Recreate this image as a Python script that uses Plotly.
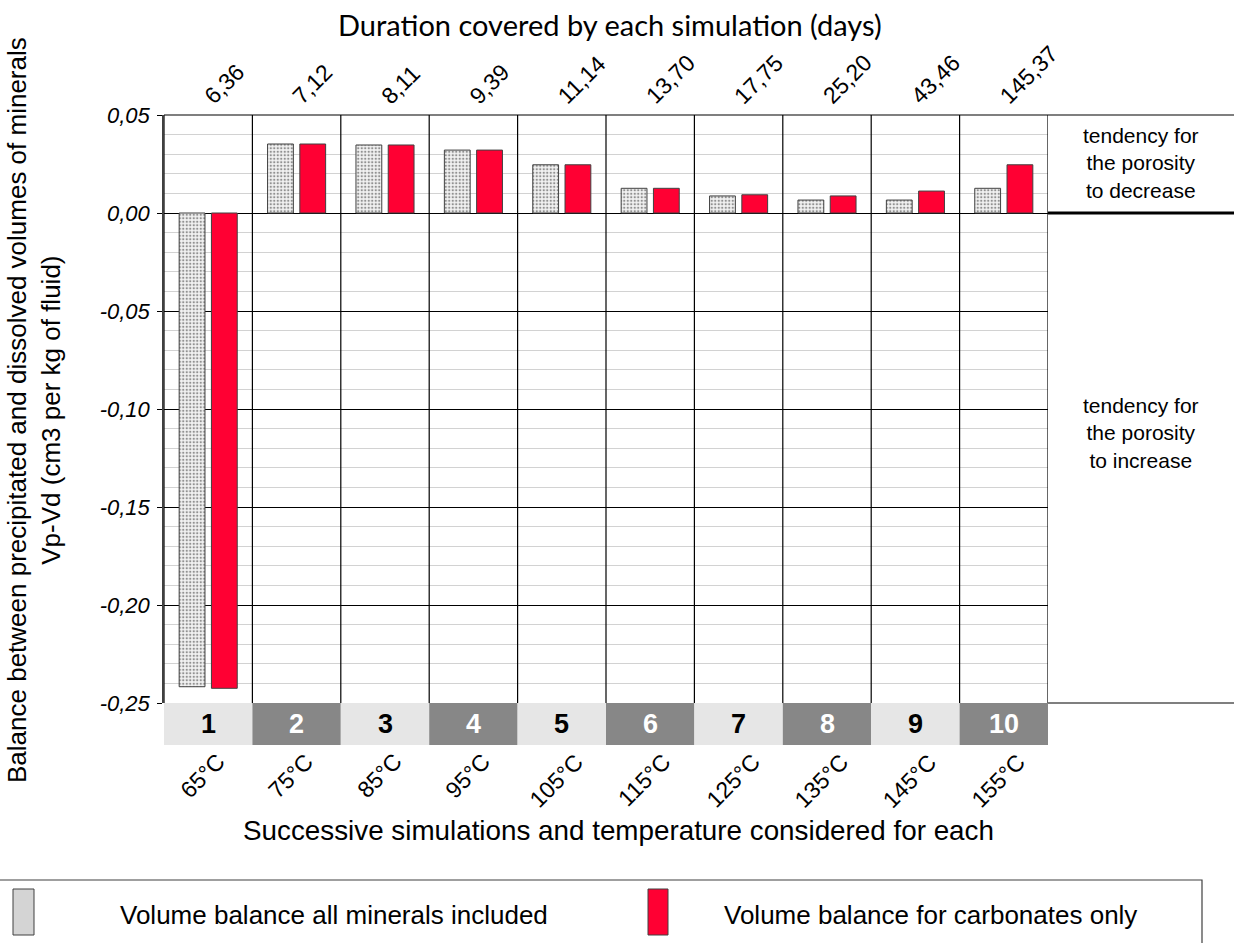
import plotly.graph_objects as go

# ---------------- data ----------------
simulations = ["1", "2", "3", "4", "5", "6", "7", "8", "9", "10"]
temperatures = ["65°C", "75°C", "85°C", "95°C", "105°C", "115°C", "125°C", "135°C", "145°C", "155°C"]
durations = ["6,36", "7,12", "8,11", "9,39", "11,14", "13,70", "17,75", "25,20", "43,46", "145,37"]
all_minerals = [-0.2417, 0.0352, 0.0347, 0.0321, 0.0246, 0.0126, 0.0087, 0.0066, 0.0066, 0.0126]
carbonates_only = [-0.2425, 0.0352, 0.0347, 0.0321, 0.0246, 0.0126, 0.0093, 0.0087, 0.0112, 0.0246]
y_tick_vals = [0.05, 0.0, -0.05, -0.10, -0.15, -0.20, -0.25]
y_tick_text = ["0,05", "0,00", "-0,05", "-0,10", "-0,15", "-0,20", "-0,25"]

FONT = "Liberation Sans, Arial, sans-serif"
TITLE_FONT = "Lato, Open Sans, sans-serif"
RED = "#ff0033"

# plot-area pixel geometry (for placing outside texts)
FW, FH = 1234, 943
L, R, T, B = 164, 1048, 115, 703
PW, PH = R - L, B - T


def px(x):
    return (x - L) / PW


def py(y):
    return (B - y) / PH


fig = go.Figure()
fig.add_trace(go.Bar(
    x=simulations, y=all_minerals, name="Volume balance all minerals included",
    marker=dict(color="#ffffff", line=dict(color="#404040", width=1),
                pattern=dict(shape=".", fgcolor="#303030", bgcolor="#f2f2f2", size=3.5, solidity=0.35)),
))
fig.add_trace(go.Bar(
    x=simulations, y=carbonates_only, name="Volume balance for carbonates only",
    marker=dict(color=RED, line=dict(color="#404040", width=1)),
))

shapes = []
n = len(simulations)
# vertical category separators
for k in range(n + 1):
    shapes.append(dict(type="line", xref="x", yref="paper", x0=k - 0.5, x1=k - 0.5, y0=0, y1=1,
                       line=dict(color="#000000", width=1.2)))
# category number boxes below the plot
for k in range(n):
    dark = (k % 2 == 1)
    shapes.append(dict(type="rect", xref="x", yref="paper", x0=k - 0.5, x1=k + 0.5,
                       y0=py(745), y1=py(703), line=dict(width=0),
                       fillcolor="#878787" if dark else "#e6e6e6", layer="below"))
# right side panel lines
shapes.append(dict(type="line", xref="paper", yref="paper", x0=px(L), x1=px(FW + 5), y0=py(T), y1=py(T),
                   line=dict(color="#000000", width=1.2)))
shapes.append(dict(type="line", xref="paper", yref="paper", x0=px(R), x1=px(FW + 5), y0=py(B), y1=py(B),
                   line=dict(color="#000000", width=1.2)))
shapes.append(dict(type="line", xref="paper", yref="y", x0=1, x1=px(FW + 5), y0=0, y1=0,
                   line=dict(color="#000000", width=3)))
# legend box
shapes.append(dict(type="rect", xref="paper", yref="paper", x0=px(-5), x1=px(1202), y0=py(960), y1=py(880),
                   line=dict(color="#404040", width=1.2), fillcolor="rgba(0,0,0,0)"))
shapes.append(dict(type="rect", xref="paper", yref="paper", x0=px(13), x1=px(34), y0=py(935), y1=py(889),
                   line=dict(color="#404040", width=1), fillcolor="#d4d4d4"))
shapes.append(dict(type="rect", xref="paper", yref="paper", x0=px(648), x1=px(668), y0=py(935), y1=py(889),
                   line=dict(color="#404040", width=1), fillcolor=RED))

ann = []
for k in range(n):
    dark = (k % 2 == 1)
    ann.append(dict(x=k, y=py(724), xref="x", yref="paper", text="<b>%s</b>" % simulations[k],
                    showarrow=False, font=dict(size=27, color="#ffffff" if dark else "#000000", family=FONT),
                    xanchor="center", yanchor="middle"))
    ann.append(dict(x=k, xshift=-6, y=py(746), xref="x", yref="paper", text=temperatures[k], textangle=-45,
                    showarrow=False, font=dict(size=23, color="#000000", family=FONT),
                    xanchor="center", yanchor="top"))
    ann.append(dict(x=k, xshift=-12, y=py(112), xref="x", yref="paper", text=durations[k], textangle=-45,
                    showarrow=False, font=dict(size=23, color="#000000", family=FONT),
                    xanchor="left", yanchor="bottom"))

ann += [
    dict(x=px(610), y=py(25), xref="paper", yref="paper", text="Duration covered by each simulation (days)",
         showarrow=False, font=dict(size=29, family=TITLE_FONT, color="#000"), xanchor="center", yanchor="middle"),
    dict(x=px(618), y=py(830), xref="paper", yref="paper",
         text="Successive simulations and temperature considered for each",
         showarrow=False, font=dict(size=27.8, family=FONT, color="#000"), xanchor="center", yanchor="middle"),
    dict(x=px(34), y=py(410), xref="paper", yref="paper",
         text="Balance between precipitated and dissolved volumes of minerals<br>Vp-Vd (cm3 per kg of fluid)",
         textangle=-90, showarrow=False, font=dict(size=26, family=FONT, color="#000"),
         xanchor="center", yanchor="middle"),
    dict(x=px(1141), y=py(163), xref="paper", yref="paper",
         text="tendency for<br>the porosity<br>to decrease", showarrow=False,
         font=dict(size=21, family=FONT, color="#000"), xanchor="center", yanchor="middle"),
    dict(x=px(1141), y=py(433), xref="paper", yref="paper",
         text="tendency for<br>the porosity<br>to increase", showarrow=False,
         font=dict(size=21, family=FONT, color="#000"), xanchor="center", yanchor="middle"),
    dict(x=px(118), y=py(915), xref="paper", yref="paper", text="Volume balance all minerals included",
         showarrow=False, font=dict(size=26, family=FONT, color="#000"), xanchor="left", yanchor="middle"),
    dict(x=px(722), y=py(915), xref="paper", yref="paper", text="Volume balance for carbonates only",
         showarrow=False, font=dict(size=26, family=FONT, color="#000"), xanchor="left", yanchor="middle"),
]

fig.update_layout(
    width=FW, height=FH, autosize=False,
    margin=dict(l=L, r=FW - R, t=T, b=FH - B, pad=0),
    paper_bgcolor="#ffffff", plot_bgcolor="#ffffff",
    barmode="group", bargap=0.27, bargroupgap=0.2,
    showlegend=False,
    font=dict(family=FONT, color="#000000"),
    shapes=shapes, annotations=ann,
    xaxis=dict(range=[-0.5, n - 0.5], showticklabels=False, showgrid=False, zeroline=False,
               ticks="", showline=False, fixedrange=True),
    yaxis=dict(range=[-0.25, 0.05], tickvals=y_tick_vals, ticktext=y_tick_text,
               tickfont=dict(size=22, style="italic", family=FONT, color="#000"),
               showgrid=True, gridcolor="#000000", gridwidth=1.2,
               minor=dict(dtick=0.01, tick0=0, showgrid=True, gridcolor="#d2d2d2", gridwidth=1),
               zeroline=False, showline=True, linecolor="#404040", linewidth=1.5,
               ticks="outside", ticklen=5, tickcolor="#000", ticklabelstandoff=3),
)

fig.write_html("out.html", config={"displayModeBar": False},
               post_script="document.body.style.margin='0';document.body.style.padding='0';")
